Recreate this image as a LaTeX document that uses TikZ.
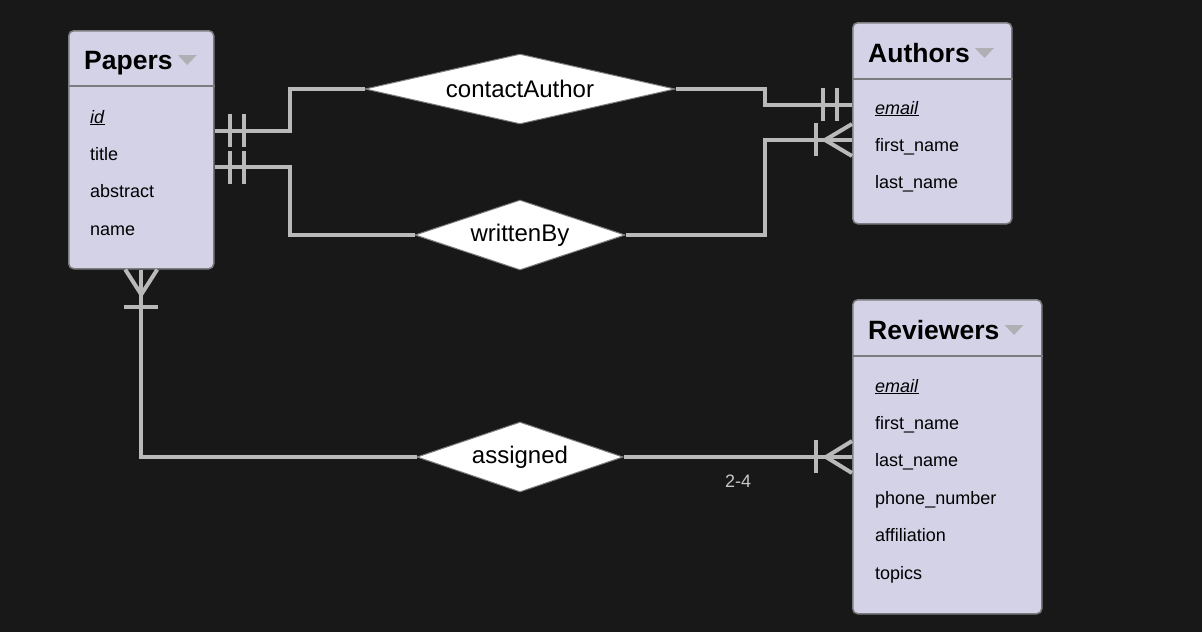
\documentclass[tikz,border=0pt]{standalone}
\usepackage{fontspec}
\setmainfont{Liberation Sans}
\usetikzlibrary{shapes.geometric,calc}

\definecolor{fondo}{HTML}{181818}
\definecolor{lila}{HTML}{D4D2E7}
\definecolor{borde}{HTML}{7C7C80}
\definecolor{linea}{HTML}{B9B9B9}
\definecolor{flecha}{HTML}{B0B0B4}

\tikzset{
  entity/.style={draw=borde, line width=1.5pt, fill=lila, rounded corners=5pt,
    anchor=north west, inner sep=0pt},
  header/.style={anchor=base west, inner sep=0pt, font=\fontsize{26.5}{30}\selectfont\bfseries},
  attr/.style={anchor=base west, inner sep=0pt, font=\fontsize{18}{22}\selectfont},
  rel/.style={diamond, aspect=4, draw=borde, line width=1pt, fill=white, inner sep=0pt,
    minimum height=70pt, font=\fontsize{24}{28}\selectfont},
  link/.style={draw=linea, line width=4pt},
  menu/.style={fill=flecha}
}

\newcommand{\keyattr}[1]{\underline{\textit{#1}}}

\begin{document}
\begin{tikzpicture}[x=1pt,y=-1pt]

  % Fondo
  \fill[fondo] (0,0) rectangle (1202,632);

  % Entidades
  \node[entity, minimum width=145pt, minimum height=238pt] (pap) at (68,30) {};
  \node[entity, minimum width=159pt, minimum height=201pt] (aut) at (852,22) {};
  \node[entity, minimum width=189pt, minimum height=314pt] (rev) at (852,299) {};

  % Cabeceras
  \draw[borde, line width=1.5pt] ($(pap.north west)+(0,56)$) -- ($(pap.north east)+(0,56)$);
  \draw[borde, line width=1.5pt] ($(aut.north west)+(0,57)$) -- ($(aut.north east)+(0,57)$);
  \draw[borde, line width=1.5pt] ($(rev.north west)+(0,57)$) -- ($(rev.north east)+(0,57)$);
  \node[header] (papT) at (84,69) {Papers};
  \node[header] (autT) at (868,62) {Authors};
  \node[header] (revT) at (868,339) {Reviewers};
  \foreach \t in {papT,autT,revT} {
    \fill[menu] ($(\t.base east)+(5,-14)$) -- ++(19,0) -- ++(-9.5,10) -- cycle;
  }

  % Atributos
  \node[attr] (pap1) at (90,123) {\keyattr{id}};
  \foreach \n/\txt in {2/title,3/abstract,4/name} {
    \pgfmathsetmacro{\yy}{123+37.4*(\n-1)}
    \node[attr] (pap\n) at (90,\yy) {\txt};
  }
  \node[attr] (aut1) at (875,114) {\keyattr{email}};
  \foreach \n/\txt in {2/first\_name,3/last\_name} {
    \pgfmathsetmacro{\yy}{114+37.2*(\n-1)}
    \node[attr] (aut\n) at (875,\yy) {\txt};
  }
  \node[attr] (rev1) at (875,392) {\keyattr{email}};
  \foreach \n/\txt in {2/first\_name,3/last\_name,4/phone\_number,5/affiliation,6/topics} {
    \pgfmathsetmacro{\yy}{392+37.4*(\n-1)}
    \node[attr] (rev\n) at (875,\yy) {\txt};
  }

  % Relaciones
  \node[rel, minimum width=310pt] (ca) at (520,89) {contactAuthor};
  \node[rel, minimum width=210pt] (wb) at (520,235) {writtenBy};
  \node[rel, minimum width=206pt] (as) at (520,457) {assigned};

  % Puertos
  \coordinate (p1) at ($(pap.north east)+(0,101)$);
  \coordinate (p2) at ($(pap.north east)+(0,137)$);
  \coordinate (a1) at ($(aut.north west)+(0,83)$);
  \coordinate (a2) at ($(aut.north west)+(0,118)$);
  \coordinate (r1) at ($(rev.north west)+(0,158)$);

  % Conectores
  \draw[link] (p1) -- ++(75,0) |- (ca.west);
  \draw[link] (ca.east) -- ++(89,0) |- (a1);
  \draw[link] (p2) -- ++(75,0) |- (wb.west);
  \draw[link] (wb.east) -- ++(139,0) |- (a2);
  \draw[link] (pap.south) |- (as.west);
  \draw[link] (as.east) -- (r1);

  % Cardinalidades
  \foreach \dx in {15,29} {
    \draw[link] ($(p1)+(\dx,-17)$) -- ++(0,33);
    \draw[link] ($(p2)+(\dx,-16)$) -- ++(0,33);
    \draw[link] ($(a1)+(-\dx,-17)$) -- ++(0,33);
  }
  \draw[link] ($(a2)+(-36,-17)$) -- ++(0,33);
  \draw[link] ($(a2)+(0,-16)$) -- ($(a2)+(-27,0)$) -- ($(a2)+(0,16)$);
  \draw[link] ($(r1)+(-36,-17)$) -- ++(0,33);
  \draw[link] ($(r1)+(0,-16)$) -- ($(r1)+(-26,0)$) -- ($(r1)+(0,16)$);
  \draw[link] ($(pap.south)+(-16,0)$) -- ($(pap.south)+(0,25)$) -- ($(pap.south)+(16,0)$);
  \draw[link] ($(pap.south)+(-17,37)$) -- ++(34,0);

  \node[text=linea!80!white, font=\fontsize{18}{22}\selectfont] (card) at (738,481) {2-4};

\end{tikzpicture}
\end{document}
